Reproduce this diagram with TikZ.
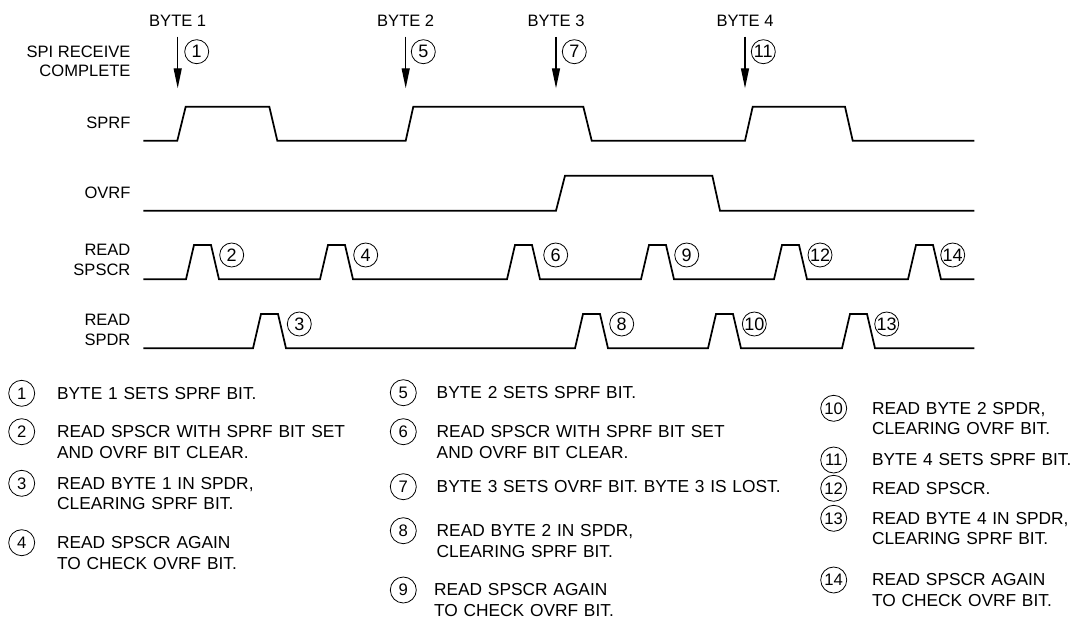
\documentclass[tikz,border=0pt]{standalone}
\usepackage{fontspec}
\setmainfont{Liberation Sans}
\usepackage{tikz}
\usetikzlibrary{arrows.meta, positioning}

\begin{document}
\begin{tikzpicture}[
          x=0.75pt, y=-0.75pt,
          node distance=15pt,
          sig/.style={font=\fontsize{12.4}{14.8}\selectfont, inner sep=0pt,
                      align=right, anchor=east},
          bytelbl/.style={font=\fontsize{12.4}{14.8}\selectfont, inner sep=0pt},
          wave/.style={line width=1.3pt},
          numcirc/.style={draw, circle, line width=0.6pt, inner sep=0pt,
                          minimum size=18pt, font=\fontsize{13.5}{13.5}\selectfont},
          keycirc/.style={numcirc, minimum size=19.5pt, font=\fontsize{12.5}{12.5}\selectfont},
          note/.style={font=\fontsize{13}{15.6}\selectfont, inner sep=0pt,
                       text width=8.5cm, align=left},
          arr/.style={-{Triangle[length=15pt, width=6pt]}, line width=1pt, shorten <=7.5pt}
        ]
        \useasboundingbox (0,0) rectangle (1073,620);
        % signal names
        \node[sig] (src)   at (130.7,61.2)  {SPI RECEIVE\\COMPLETE};
        \node[sig] (sprf)  at (130.7,123.3) {SPRF};
        \node[sig] (ovrf)  at (130.7,193.3) {OVRF};
        \node[sig] (rdscr) at (130.7,260)   {READ\\SPSCR};
        \node[sig] (rddr)  at (130.7,330)   {READ\\SPDR};
        % bytes received
        \node[bytelbl] (b1) at (177.7,20.7) {BYTE 1};
        \node[bytelbl] (b2) at (405.7,20.7) {BYTE 2};
        \node[bytelbl] (b3) at (556,20.7)   {BYTE 3};
        \node[bytelbl] (b4) at (745,20.7)   {BYTE 4};
        \coordinate (t1) at (177.7,88.3);
        \coordinate (t2) at (405.7,88.3);
        \coordinate (t3) at (556,88.3);
        \coordinate (t4) at (745,88.3);
        \draw[arr] (b1)--(t1);
        \draw[arr] (b2)--(t2);
        \draw[arr] (b3)--(t3);
        \draw[arr] (b4)--(t4);
        \node[numcirc] (n1)  at (196.7,51.7) {1};
        \node[numcirc] (n5)  at (423.3,51.7) {5};
        \node[numcirc] (n7)  at (574.3,51.7) {7};
        \node[numcirc] (n11) at (763.3,51.7) {11};
        % waveforms
        \draw[wave] (143.3,140.7) -- (177.3,140.7) -- (185.7,106.7) -- (269.3,106.7)
          -- (277.3,140.7) -- (405.7,140.7) -- (413.3,106.7) -- (583.3,106.7)
          -- (591.7,140.7) -- (745,140.7) -- (752.7,106.7) -- (845,106.7)
          -- (852.7,140.7) -- (974.3,140.7);
        \draw[wave] (143.3,210.7) -- (556,210.7) -- (565,175.7) -- (712.3,175.7)
          -- (720,210.7) -- (974.3,210.7);
        \draw[wave] (143.3,279.3) -- (186,279.3) -- (194,245) -- (211,245) -- (219,279.3)
          -- (320,279.3) -- (328,245) -- (345,245) -- (353,279.3)
          -- (507,279.3) -- (515,245) -- (532,245) -- (540,279.3)
          -- (641,279.3) -- (649,245) -- (666,245) -- (674,279.3)
          -- (774,279.3) -- (782,245) -- (799,245) -- (807,279.3)
          -- (908,279.3) -- (916,245) -- (933,245) -- (941,279.3) -- (974.3,279.3);
        \draw[wave] (143.3,348.3) -- (253,348.3) -- (261,314) -- (278,314) -- (286,348.3)
          -- (575,348.3) -- (583,314) -- (600,314) -- (608,348.3)
          -- (708,348.3) -- (716,314) -- (733,314) -- (741,348.3)
          -- (842,348.3) -- (850,314) -- (867,314) -- (875,348.3) -- (974.3,348.3);
        \node[numcirc] (n2)  at (231.7,255) {2};
        \node[numcirc] (n4)  at (365.7,255) {4};
        \node[numcirc] (n6)  at (555.7,255) {6};
        \node[numcirc] (n9)  at (686.7,255) {9};
        \node[numcirc] (n12) at (820,255)   {12};
        \node[numcirc] (n14) at (952.7,255) {14};
        \node[numcirc] (n3)  at (299.3,324) {3};
        \node[numcirc] (n8)  at (621.7,324) {8};
        \node[numcirc] (n10) at (754.3,324) {10};
        \node[numcirc] (n13) at (886.7,324) {13};
        % key
        \node[keycirc] (k1) at (21.7,393.3) {1};
        \node[keycirc] (k2) at (21.7,431.7) {2};
        \node[keycirc] (k3) at (21.7,483.3) {3};
        \node[keycirc] (k4) at (21.7,542.7) {4};
        \node[note, base right=16.3pt of k1] {BYTE 1 SETS SPRF BIT.};
        \node[note, base right=16.3pt of k2] {READ SPSCR WITH SPRF BIT SET\\AND OVRF BIT CLEAR.};
        \node[note, base right=16.3pt of k3] {READ BYTE 1 IN SPDR,\\CLEARING SPRF BIT.};
        \node[note, base right=16.3pt of k4] {READ SPSCR AGAIN\\TO CHECK OVRF BIT.};
        \node[keycirc] (k5) at (403.3,392.7) {5};
        \node[keycirc] (k6) at (403.3,431.7) {6};
        \node[keycirc] (k7) at (403.3,486.7) {7};
        \node[keycirc] (k8) at (403.3,530.7) {8};
        \node[keycirc] (k9) at (403.3,590)   {9};
        \node[note, base right=14.8pt of k5] {BYTE 2 SETS SPRF BIT.};
        \node[note, base right=14.8pt of k6] {READ SPSCR WITH SPRF BIT SET\\AND OVRF BIT CLEAR.};
        \node[note, text width=10cm, base right=14.8pt of k7] {BYTE 3 SETS OVRF BIT. BYTE 3 IS LOST.};
        \node[note, base right=14.8pt of k8] {READ BYTE 2 IN SPDR,\\CLEARING SPRF BIT.};
        \node[note, base right=12.8pt of k9] {READ SPSCR AGAIN\\TO CHECK OVRF BIT.};
        \node[keycirc] (k10) at (833.7,408.3) {10};
        \node[keycirc] (k11) at (833.7,460)   {11};
        \node[keycirc] (k12) at (833.7,488.3) {12};
        \node[keycirc] (k13) at (833.7,518.3) {13};
        \node[keycirc] (k14) at (833.7,580)   {14};
        \node[note, text width=5.6cm, base right=18.5pt of k10] {READ BYTE 2 SPDR,\\CLEARING OVRF BIT.};
        \node[note, text width=5.6cm, base right=18.5pt of k11] {BYTE 4 SETS SPRF BIT.};
        \node[note, text width=5.6cm, base right=18.5pt of k12] {READ SPSCR.};
        \node[note, text width=5.6cm, base right=18.5pt of k13] {READ BYTE 4 IN SPDR,\\CLEARING SPRF BIT.};
        \node[note, text width=5.6cm, base right=18.5pt of k14] {READ SPSCR AGAIN\\TO CHECK OVRF BIT.};
      \end{tikzpicture}
\end{document}
